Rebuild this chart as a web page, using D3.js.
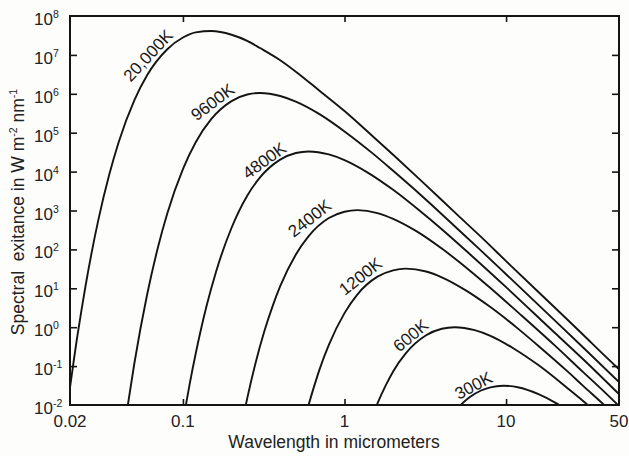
<!DOCTYPE html>
<html>
<head>
<meta charset="utf-8">
<script src="https://cdn.jsdelivr.net/npm/d3@7"></script>
<style>
  html, body { margin: 0; padding: 0; background: #fdfdfb; }
  svg { display: block; font-family: "Liberation Sans", Arial, Helvetica, sans-serif; }
</style>
</head>
<body>
<svg id="chart" width="629" height="456"></svg>
<script>
// values: [wavelength in micrometers, exitance in W m-2 nm-1]
const temperatures = ['20,000K', '9600K', '4800K', '2400K', '1200K', '600K', '300K'];

const curve20000 = [[0.02, 0.028], [0.021, 0.12], [0.022, 0.46], [0.0235, 2.6], [0.025, 12], [0.03, 590],
  [0.035, 8400], [0.04, 5.7e4], [0.05, 6.8e5], [0.06, 3.0e6], [0.08, 1.4e7], [0.1, 2.8e7], [0.12, 3.8e7],
  [0.15, 4.1e7], [0.2, 3.3e7], [0.25, 2.3e7], [0.3, 1.5e7], [0.4, 7.3e6], [0.5, 3.7e6], [0.7, 1.2e6],
  [1, 3.6e5], [1.5, 8.0e4], [2, 2.7e4], [3, 5700], [5, 770], [7, 210], [10, 50], [20, 3.2], [30, 0.64],
  [40, 0.2], [50, 0.083]];
const curve9600 = [[0.045, 0.007], [0.05, 0.115], [0.06, 6.8], [0.07, 112], [0.08, 840], [0.1, 1.16e4],
  [0.12, 5.7e4], [0.15, 2.26e5], [0.2, 6.5e5], [0.25, 9.6e5], [0.3, 1.05e6], [0.4, 8.8e5], [0.5, 6.3e5],
  [0.7, 3.0e5], [1, 1.08e5], [1.5, 2.9e4], [2, 1.05e4], [3, 2400], [5, 340], [7, 93], [10, 23], [20, 1.5],
  [30, 0.3], [50, 0.039]];
const curve4800 = [[0.1, 0.0036], [0.105, 0.0117], [0.11, 0.034], [0.12, 0.21], [0.14, 3.5], [0.16, 26],
  [0.2, 360], [0.25, 2400], [0.3, 7100], [0.4, 2.03e4], [0.5, 3.0e4], [0.6, 3.3e4], [0.8, 2.76e4],
  [1, 1.97e4], [1.4, 9300], [2, 3400], [3, 900], [4, 330], [6, 74], [10, 10.7], [20, 0.72], [30, 0.15],
  [50, 0.019]];
const curve2400 = [[0.24, 0.0067], [0.25, 0.0148], [0.28, 0.11], [0.32, 0.82], [0.36, 3.6], [0.4, 11.3],
  [0.5, 74], [0.6, 220], [0.8, 640], [1, 930], [1.2, 1020], [1.6, 860], [2, 610], [2.8, 290], [4, 105],
  [6, 28], [8, 10.2], [12, 2.3], [20, 0.34], [30, 0.07], [40, 0.023], [50, 0.0094]];
const curve1200 = [[0.55, 0.0025], [0.6, 0.0101], [0.65, 0.031], [0.7, 0.081], [0.8, 0.35], [1, 2.3],
  [1.2, 6.9], [1.6, 19.9], [2, 29], [2.4, 32], [3.2, 27], [4, 19.2], [5.6, 9.0], [8, 3.3], [12, 0.88],
  [16, 0.32], [24, 0.073], [30, 0.031], [40, 0.0105], [45, 0.0066]];
const curve600 = [[1.4, 0.0025], [1.6, 0.011], [1.8, 0.032], [2, 0.073], [2.4, 0.215], [3.2, 0.62],
  [4, 0.91], [4.8, 1.0], [6.4, 0.84], [8, 0.6], [11.2, 0.28], [16, 0.103], [24, 0.027], [32, 0.01],
  [36, 0.0065]];
const curve300 = [[4.8, 0.0067], [5.2, 0.0097], [5.5, 0.0121], [6, 0.0162], [7, 0.0236], [8, 0.0285],
  [9.6, 0.0313], [12, 0.0282], [16, 0.0187], [20, 0.0117], [22, 0.0093], [25, 0.0066]];

const xTickValues = [0.02, 0.1, 1, 10, 50];
const xTickLabels = ['0.02', '0.1', '1', '10', '50'];
const yExponents = [-2, -1, 0, 1, 2, 3, 4, 5, 6, 7, 8];

const curves = [curve20000, curve9600, curve4800, curve2400, curve1200, curve600, curve300];

// where each temperature label sits (data coords) and its tilt
const labelAt = [[0.061, 9.5e6], [0.153, 6.0e5], [0.32, 1.9e4], [0.61, 620], [1.26, 20], [2.58, 0.6], [6.3, 0.031]];
const labelTilt = [-47, -37, -36, -38, -38, -40, -28];

const svg = d3.select('#chart');
const margin = { top: 16, right: 10, bottom: 51, left: 70 };
const width = +svg.attr('width') - margin.left - margin.right;
const height = +svg.attr('height') - margin.top - margin.bottom;

const x = d3.scaleLog().domain([0.02, 50]).range([0, width]);
const y = d3.scaleLog().domain([1e-2, 1e8]).range([height, 0]);

const g = svg.append('g').attr('transform', `translate(${margin.left},${margin.top})`);

g.append('clipPath')
  .attr('id', 'plot-clip')
  .append('rect')
  .attr('width', width)
  .attr('height', height);

const line = d3.line()
  .x(d => x(d[0]))
  .y(d => y(d[1]))
  .curve(d3.curveMonotoneX);

g.append('g')
  .attr('clip-path', 'url(#plot-clip)')
  .selectAll('path')
  .data(curves)
  .enter()
  .append('path')
  .attr('d', line)
  .attr('fill', 'none')
  .attr('stroke', '#141414')
  .attr('stroke-width', 1.9);

// inward ticks on all four sides
const yInner = yExponents.slice(1, -1).map(e => Math.pow(10, e));
const xInner = xTickValues.slice(1, -1);
const tickStyle = sel => {
  sel.select('.domain').remove();
  sel.selectAll('line').attr('stroke', '#141414').attr('stroke-width', 1.6);
};
g.append('g').call(d3.axisLeft(y).tickValues(yInner).tickSize(-7).tickFormat('')).call(tickStyle);
g.append('g').attr('transform', `translate(${width},0)`)
  .call(d3.axisRight(y).tickValues(yInner).tickSize(-7).tickFormat('')).call(tickStyle);
g.append('g').call(d3.axisTop(x).tickValues(xInner).tickSize(-6).tickFormat('')).call(tickStyle);
g.append('g').attr('transform', `translate(0,${height})`)
  .call(d3.axisBottom(x).tickValues(xInner).tickSize(-6).tickFormat('')).call(tickStyle);

g.append('rect')
  .attr('width', width)
  .attr('height', height)
  .attr('fill', 'none')
  .attr('stroke', '#141414')
  .attr('stroke-width', 2);

// y tick labels 10^n
const yLab = g.append('g')
  .selectAll('text')
  .data(yExponents)
  .enter()
  .append('text')
  .attr('x', -36)
  .attr('y', e => y(Math.pow(10, e)) + 9)
  .attr('font-size', 17)
  .attr('fill', '#222');
yLab.append('tspan').text('10');
yLab.append('tspan').attr('dy', -7).attr('font-size', 10.5).text(e => String(e));

// x tick labels
g.append('g')
  .selectAll('text')
  .data(xTickValues)
  .enter()
  .append('text')
  .attr('x', d => x(d))
  .attr('y', height + 22)
  .attr('text-anchor', 'middle')
  .attr('font-size', 17)
  .attr('fill', '#222')
  .text((d, i) => xTickLabels[i]);

// temperature labels along the curves
g.append('g')
  .selectAll('text')
  .data(temperatures)
  .enter()
  .append('text')
  .attr('transform', (d, i) => `translate(${x(labelAt[i][0])},${y(labelAt[i][1])})rotate(${labelTilt[i]})`)
  .attr('text-anchor', 'middle')
  .attr('dominant-baseline', 'central')
  .attr('font-size', 17)
  .attr('fill', '#1a1a1a')
  .text(d => d);

// axis titles
svg.append('text')
  .attr('x', 334)
  .attr('y', 448)
  .attr('text-anchor', 'middle')
  .attr('font-size', 17.5)
  .attr('fill', '#222')
  .text('Wavelength in micrometers');

const yTitle = svg.append('text')
  .attr('transform', 'translate(24,212)rotate(-90)')
  .attr('text-anchor', 'middle')
  .attr('font-size', 17.5)
  .attr('fill', '#222');
yTitle.append('tspan').text('Spectral\u00a0 exitance in W m');
yTitle.append('tspan').attr('dy', -7).attr('font-size', 10.5).text('-2');
yTitle.append('tspan').attr('dy', 7).text(' nm');
yTitle.append('tspan').attr('dy', -7).attr('font-size', 10.5).text('-1');
</script>
</body>
</html>
